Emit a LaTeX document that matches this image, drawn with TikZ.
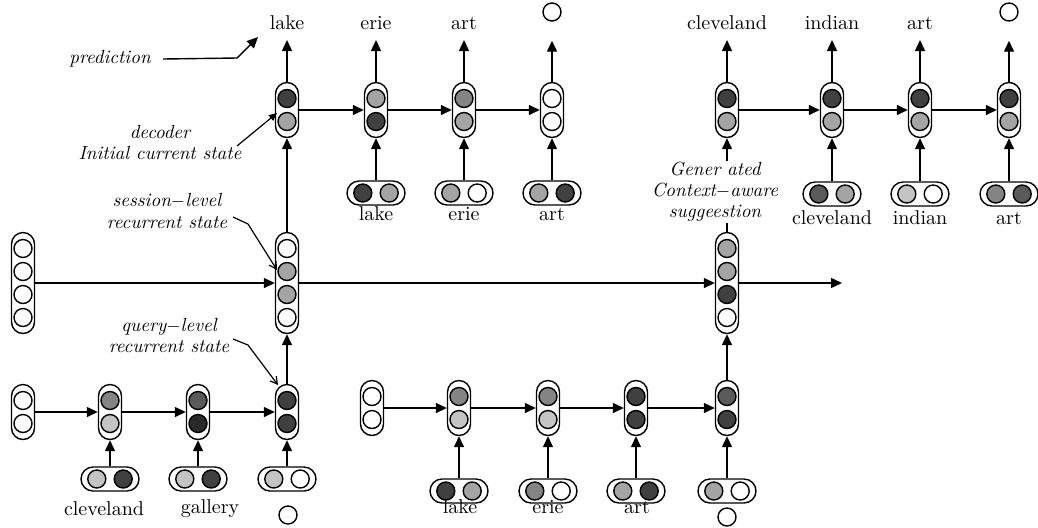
\documentclass[tikz,border=0pt]{standalone}
\usetikzlibrary{arrows.meta,calc}

% grey levels of the state units
\definecolor{gA}{HTML}{404040}
\definecolor{gB}{HTML}{A4A4A4}
\definecolor{gC}{HTML}{C4C4C4}
\definecolor{gD}{HTML}{848484}
\definecolor{gE}{HTML}{5A5A5A}
\definecolor{gF}{HTML}{2A2A2A}

\tikzset{
  capsule/.style={draw, line width=0.7pt, inner sep=0pt, fill=white},
  dot/.style={circle, draw, line width=0.7pt, minimum size=9pt, inner sep=0pt},
  link/.style={line width=0.7pt, -{Triangle[length=5.5pt,width=5pt]}},
  pointer/.style={line width=0.6pt, -{Straight Barb[length=3.5pt,width=4pt]}},
  word/.style={font=\fontsize{10}{12}\selectfont, inner xsep=0pt, inner ysep=0pt},
  outword/.style={word, anchor=south, inner ysep=5pt, text depth=0pt},
  note/.style={font=\itshape\fontsize{9.5}{10.5}\selectfont, align=center, inner sep=1pt},
}

% vertical capsule: name, position, number of units, fills from top
\newcommand\vcell[4]{%
  \node[capsule, rounded corners=5.75pt, minimum width=11.5pt,
        minimum height={#3*11.5pt+4.5pt}] (#1) at #2 {};
  \foreach \col [count=\k] in {#4} {
    \node[dot, fill=\col] (#1-\k) at ($(#1.center)+(0,{((#3+1)/2-\k)*11.5pt})$) {};
  }
}
% horizontal word-embedding capsule: name, position, left fill, right fill
\newcommand\hcell[4]{%
  \node[capsule, rounded corners=6pt, minimum width=29pt, minimum height=12pt] (#1) at #2 {};
  \node[dot, fill=#3] (#1-1) at ($(#1.center)+(-6.6pt,0)$) {};
  \node[dot, fill=#4] (#1-2) at ($(#1.center)+(6.6pt,0)$) {};
}

\begin{document}
\begin{tikzpicture}[x=0.5pt,y=-0.5pt]
\useasboundingbox (0,0) rectangle (1038,527);

% ---------- decoder for the first query ----------
\vcell{D1}{(287,110)}{2}{gA,gB}
\vcell{D2}{(376,110)}{2}{gB,gA}
\vcell{D3}{(464,110)}{2}{gD,gB}
\vcell{D4}{(552,110)}{2}{white,white}
\node[outword] (oD1) at (287,40) {lake};
\node[outword] (oD2) at (376,40) {erie};
\node[outword] (oD3) at (464,40) {art};
\node[dot] (oD4) at (552,12) {};
\hcell{iD2}{(376,193)}{gA}{gB}
\hcell{iD3}{(464,193)}{gB}{white}
\hcell{iD4}{(552,193)}{gB}{gA}
\node[word] (wD2) at (376,214) {lake};
\node[word] (wD3) at (464,214) {erie};
\node[word] (wD4) at (552,214) {art};
\draw[link] (D1) -- (oD1);
\draw[link] (D2) -- (oD2);
\draw[link] (D3) -- (oD3);
\draw[link, shorten >=9.5pt] (D4) -- (oD4);
\draw[link] (D1.east) -- (D2.west);
\draw[link] (D2.east) -- (D3.west);
\draw[link] (D3.east) -- (D4.west);
\draw[link] (iD2) -- (D2);
\draw[link] (iD3) -- (D3);
\draw[link] (iD4) -- (D4);

% ---------- decoder for the generated suggestion ----------
\vcell{R1}{(727,110)}{2}{gA,gB}
\vcell{R2}{(832,110)}{2}{gA,gB}
\vcell{R3}{(920,110)}{2}{gA,gB}
\vcell{R4}{(1009,110)}{2}{gA,gB}
\node[outword] (oR1) at (727,40) {cleveland};
\node[outword] (oR2) at (832,40) {indian};
\node[outword] (oR3) at (920,40) {art};
\node[dot] (oR4) at (1009,12) {};
\hcell{iR2}{(832,194)}{gE}{gB}
\hcell{iR3}{(920,194)}{gC}{white}
\hcell{iR4}{(1009,194)}{gD}{gE}
\node[word] (wR2) at (832,218) {cleveland};
\node[word] (wR3) at (920,218) {indian};
\node[word] (wR4) at (1009,218) {art};
\draw[link] (R1) -- (oR1);
\draw[link] (R2) -- (oR2);
\draw[link] (R3) -- (oR3);
\draw[link, shorten >=9.5pt] (R4) -- (oR4);
\draw[link] (R1.east) -- (R2.west);
\draw[link] (R2.east) -- (R3.west);
\draw[link] (R3.east) -- (R4.west);
\draw[link] (iR2) -- (R2);
\draw[link] (iR3) -- (R3);
\draw[link] (iR4) -- (R4);

% ---------- session-level recurrence ----------
\vcell{S0}{(23,283)}{4}{white,white,white,white}
\vcell{S1}{(287,283)}{4}{white,gB,gB,white}
\vcell{S2}{(727,283)}{4}{gB,gB,gA,white}
\coordinate (Send) at (842,283);
\draw[link] (S0.east) -- (S1.west);
\draw[link] (S1.east) -- (S2.west);
\draw[link] (S2.east) -- (Send);
\draw[link] (S1) -- (D1);
\draw[link] (S2) -- (R1);

% ---------- query-level encoder, first query ----------
\vcell{Q0}{(23,412)}{2}{white,white}
\vcell{Q1}{(110,412)}{2}{gD,gC}
\vcell{Q2}{(198,412)}{2}{gE,gF}
\vcell{Q3}{(287,412)}{2}{gA,gA}
\hcell{iQ1}{(110,479)}{gC}{gA}
\hcell{iQ2}{(198,479)}{gC}{gA}
\hcell{iQ3}{(287,479)}{gC}{white}
\node[word] (wQ1) at (104,509) {cleveland};
\node[word] (wQ2) at (210,509) {gallery};
\node[dot] (wQ3) at (288,515) {};
\draw[link] (Q0.east) -- (Q1.west);
\draw[link] (Q1.east) -- (Q2.west);
\draw[link] (Q2.east) -- (Q3.west);
\draw[link] (iQ1) -- (Q1);
\draw[link] (iQ2) -- (Q2);
\draw[link] (iQ3) -- (Q3);
\draw[link] (Q3) -- (S1);

% ---------- query-level encoder, second query ----------
\vcell{P0}{(372,408)}{2}{white,white}
\vcell{P1}{(459,408)}{2}{gD,gC}
\vcell{P2}{(548,408)}{2}{gD,gC}
\vcell{P3}{(636,408)}{2}{gA,gA}
\vcell{P4}{(727,408)}{2}{gE,gA}
\hcell{iP1}{(459,491)}{gA}{gB}
\hcell{iP2}{(548,491)}{gD}{white}
\hcell{iP3}{(636,491)}{gB}{gA}
\hcell{iP4}{(727,491)}{gB}{white}
\node[word] (wP1) at (460,507) {lake};
\node[word] (wP2) at (548,507) {erie};
\node[word] (wP3) at (637,507) {art};
\node[dot] (wP4) at (727,517) {};
\draw[link] (P0.east) -- (P1.west);
\draw[link] (P1.east) -- (P2.west);
\draw[link] (P2.east) -- (P3.west);
\draw[link] (P3.east) -- (P4.west);
\draw[link] (iP1) -- (P1);
\draw[link] (iP2) -- (P2);
\draw[link] (iP3) -- (P3);
\draw[link] (iP4) -- (P4);
\draw[link] (P4) -- (S2);

% ---------- annotations ----------
\node[note] (pred) at (110,59) {prediction};
\coordinate (predbend) at (237,58);
\coordinate (predtip) at (258,37);
\draw[link] ([xshift=5pt]pred.east) -- (predbend) -- (predtip);

\node[note] (dec) at (160,143) {decoder\\Initial current state};
\coordinate (decfrom) at (237,146);
\coordinate (dectip) at (277,113);
\draw[line width=0.6pt, -{Triangle[length=4pt,width=3.5pt]}] (decfrom) -- (dectip);

\node[note] (sess) at (167,211) {session$-$level\\recurrent state};
\coordinate (sessA) at (233,217);
\coordinate (sessB) at (248,224);
\coordinate (sesstip) at (277,270);
\draw[pointer] (sessA) -- (sessB) -- (sesstip);

\node[note] (qry) at (169,335) {query$-$level\\recurrent state};
\coordinate (qryA) at (233,339);
\coordinate (qryB) at (248,345);
\coordinate (qrytip) at (278,385);
\draw[pointer] (qryA) -- (qryB) -- (qrytip);

\node[note, fill=white, inner sep=0.5pt] (gen) at (715,192)
  {Gener ated\\Context$-$aware\\suggeestion};
\end{tikzpicture}
\end{document}
